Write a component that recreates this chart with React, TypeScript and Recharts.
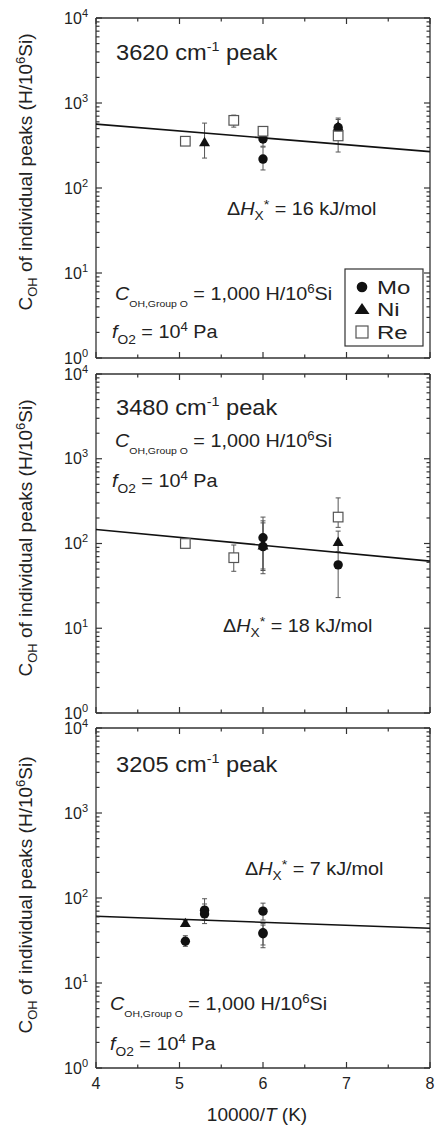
import { ErrorBar, Scatter, ScatterChart, XAxis, YAxis } from "recharts"

// x = 10000/T (K), y = C_OH (H/10^6 Si); lo/hi = ends of the error bar
type Pt = { x: number; y: number; lo: number; hi: number }

const X_TICKS = [4, 4.5, 5, 5.5, 6, 6.5, 7, 7.5, 8]
const X_LABELS = [4, 5, 6, 7, 8]
const Y_DECADES = [1, 10, 100, 1000, 10000]
const Y_TICKS = [
  1, 2, 3, 4, 5, 6, 7, 8, 9,
  10, 20, 30, 40, 50, 60, 70, 80, 90,
  100, 200, 300, 400, 500, 600, 700, 800, 900,
  1000, 2000, 3000, 4000, 5000, 6000, 7000, 8000, 9000,
  10000,
]

// 3620 cm-1 peak
const mo3620: Pt[] = [
  { x: 6.0, y: 219, lo: 163, hi: 303 },
  { x: 6.0, y: 377, lo: 310, hi: 460 },
  { x: 6.9, y: 515, lo: 430, hi: 665 },
]
const ni3620: Pt[] = [
  { x: 5.3, y: 347, lo: 225, hi: 580 },
  { x: 6.9, y: 530, lo: 450, hi: 640 },
]
const re3620: Pt[] = [
  { x: 5.07, y: 355, lo: 335, hi: 375 },
  { x: 5.65, y: 625, lo: 520, hi: 720 },
  { x: 6.0, y: 465, lo: 420, hi: 520 },
  { x: 6.9, y: 410, lo: 265, hi: 560 },
]
const fit3620 = [{ x: 4, y: 565 }, { x: 8, y: 268 }]

// 3480 cm-1 peak
const mo3480: Pt[] = [
  { x: 6.0, y: 117, lo: 50, hi: 205 },
  { x: 6.0, y: 92, lo: 44, hi: 185 },
  { x: 6.9, y: 56, lo: 23, hi: 105 },
]
const ni3480: Pt[] = [
  { x: 6.0, y: 95, lo: 48, hi: 175 },
  { x: 6.9, y: 105, lo: 80, hi: 140 },
]
const re3480: Pt[] = [
  { x: 5.07, y: 100, lo: 94, hi: 106 },
  { x: 5.65, y: 68, lo: 47, hi: 96 },
  { x: 6.9, y: 205, lo: 155, hi: 345 },
]
const fit3480 = [{ x: 4, y: 146 }, { x: 8, y: 62 }]

// 3205 cm-1 peak
const mo3205: Pt[] = [
  { x: 5.07, y: 31, lo: 27, hi: 36 },
  { x: 5.3, y: 72, lo: 55, hi: 98 },
  { x: 5.3, y: 65, lo: 50, hi: 85 },
  { x: 6.0, y: 70, lo: 55, hi: 87 },
  { x: 6.0, y: 39, lo: 26, hi: 50 },
  { x: 6.0, y: 38, lo: 28, hi: 48 },
]
const ni3205: Pt[] = [{ x: 5.07, y: 51, lo: 48, hi: 54 }]
const re3205: Pt[] = []
const fit3205 = [{ x: 4, y: 61 }, { x: 8, y: 44 }]

const FONT = "'Liberation Sans', Arial, Helvetica, sans-serif"
const INK = "#222"
const FRAME = "#333"
const SX = 1.1 // annotation text in the figure is a bit wider than Arial

const withErr = (d: Pt[]) => d.map((p) => ({ ...p, err: [p.y - p.lo, p.hi - p.y] }))

const Dot = (p: any) => <circle cx={p.cx} cy={p.cy} r={4.7} fill="#111" />
const Tri = (p: any) => (
  <polygon
    points={`${p.cx - 5.5},${p.cy + 4.2} ${p.cx + 5.5},${p.cy + 4.2} ${p.cx},${p.cy - 5.2}`}
    fill="#111"
  />
)
const Sq = (p: any) => (
  <rect x={p.cx - 4.8} y={p.cy - 4.8} width={9.6} height={9.6} fill="#fff" stroke="#555" strokeWidth={1.2} />
)
const NoShape = () => <g />

function xTick(side: "bottom" | "top", labels: boolean) {
  return (p: any) => {
    const v = p.payload.value
    const major = X_LABELS.includes(v)
    const len = major ? 6 : 3.5
    const y2 = side === "bottom" ? p.y - len : p.y + len
    return (
      <g>
        <line x1={p.x} x2={p.x} y1={p.y} y2={y2} stroke={FRAME} strokeWidth={1.2} />
        {labels && major && side === "bottom" && (
          <text x={p.x} y={p.y + 21} textAnchor="middle" fontSize={16} fill={INK} fontFamily={FONT}>
            {v}
          </text>
        )}
      </g>
    )
  }
}

function yTick(side: "left" | "right") {
  return (p: any) => {
    const v = p.payload.value
    const major = Y_DECADES.includes(v)
    const len = major ? 6 : 3.5
    const x2 = side === "left" ? p.x + len : p.x - len
    return (
      <g>
        <line x1={p.x} x2={x2} y1={p.y} y2={p.y} stroke={FRAME} strokeWidth={1.2} />
        {major && side === "left" && (
          <text x={p.x - 8} y={p.y + 5.5} textAnchor="end" fontSize={16} fill={INK} fontFamily={FONT}>
            10
            <tspan fontSize={11} dy={-7}>
              {Math.round(Math.log10(v))}
            </tspan>
          </text>
        )}
      </g>
    )
  }
}

interface PanelProps {
  top: number
  plotH: number
  bottom: number
  mo: Pt[]
  ni: Pt[]
  re: Pt[]
  fit: { x: number; y: number }[]
  labels: boolean
}

// axes need a non-zero size to be drawn, so each takes 1px out of the margin
function Panel({ top, plotH, bottom, mo, ni, re, fit, labels }: PanelProps) {
  const h = 18 + plotH + bottom
  const axisLine = { stroke: FRAME, strokeWidth: 1.3 }
  const series: [Pt[], (p: any) => any][] = [
    [mo, Dot],
    [ni, Tri],
    [re, Sq],
  ]
  return (
    <div style={{ position: "absolute", left: 0, top: top - 18, width: 436, height: h }}>
      <ScatterChart width={436} height={h} margin={{ top: 17, right: 5, bottom: bottom - 1, left: 95 }}>
        <XAxis
          xAxisId="b"
          type="number"
          dataKey="x"
          domain={[4, 8]}
          ticks={X_TICKS}
          interval={0}
          height={1}
          tickSize={0}
          tickMargin={0}
          tick={xTick("bottom", labels)}
          axisLine={axisLine}
          allowDataOverflow
        />
        <XAxis
          xAxisId="t"
          orientation="top"
          type="number"
          dataKey="x"
          domain={[4, 8]}
          ticks={X_TICKS}
          interval={0}
          height={1}
          tickSize={0}
          tickMargin={0}
          tick={xTick("top", false)}
          axisLine={axisLine}
          allowDataOverflow
        />
        <YAxis
          yAxisId="l"
          type="number"
          dataKey="y"
          scale="log"
          domain={[1, 10000]}
          ticks={Y_TICKS}
          interval={0}
          width={1}
          tickSize={0}
          tickMargin={0}
          tick={yTick("left")}
          axisLine={axisLine}
          allowDataOverflow
        />
        <YAxis
          yAxisId="r"
          orientation="right"
          type="number"
          dataKey="y"
          scale="log"
          domain={[1, 10000]}
          ticks={Y_TICKS}
          interval={0}
          width={1}
          tickSize={0}
          tickMargin={0}
          tick={yTick("right")}
          axisLine={axisLine}
          allowDataOverflow
        />
        <Scatter
          data={fit}
          xAxisId="t"
          yAxisId="r"
          line={{ stroke: "#111", strokeWidth: 1.6 }}
          shape={NoShape}
          isAnimationActive={false}
        />
        {series.map(([d, shape], i) =>
          d.length ? (
            <Scatter
              key={i}
              data={withErr(d)}
              xAxisId="b"
              yAxisId="l"
              shape={shape}
              isAnimationActive={false}
            >
              <ErrorBar dataKey="err" direction="y" width={2.5} stroke="#555" strokeWidth={1} />
            </Scatter>
          ) : null,
        )}
      </ScatterChart>
    </div>
  )
}

function PeakTitle({ x, y, num }: { x: number; y: number; num: string }) {
  return (
    <g transform={`translate(${x},${y}) scale(${SX},1)`}>
      <text fontSize={21.5}>
        {num} cm
        <tspan fontSize={13} dy={-9}>
          -1
        </tspan>
        <tspan dy={9}> peak</tspan>
      </text>
    </g>
  )
}

function DeltaH({ x, y, val }: { x: number; y: number; val: number }) {
  return (
    <g transform={`translate(${x},${y}) scale(${SX},1)`}>
      <text fontSize={18}>
        Δ<tspan fontStyle="italic">H</tspan>
        <tspan fontSize={12.5} dy={5}>
          X
        </tspan>
        <tspan fontSize={13} dy={-11}>
          *
        </tspan>
        <tspan dy={6}> = {val} kJ/mol</tspan>
      </text>
    </g>
  )
}

function COH({ x, y }: { x: number; y: number }) {
  return (
    <g transform={`translate(${x},${y}) scale(${SX},1)`}>
      <text fontSize={18}>
        <tspan fontStyle="italic">C</tspan>
        <tspan fontSize={9.5} dy={7}>
          OH,Group O
        </tspan>
        <tspan dy={-7}> = 1,000 H/10</tspan>
        <tspan fontSize={12} dy={-7}>
          6
        </tspan>
        <tspan dy={7}>Si</tspan>
      </text>
    </g>
  )
}

function FO2({ x, y }: { x: number; y: number }) {
  return (
    <g transform={`translate(${x},${y}) scale(${SX},1)`}>
      <text fontSize={18}>
        <tspan fontStyle="italic">f</tspan>
        <tspan fontSize={12.5} dy={6}>
          O2
        </tspan>
        <tspan dy={-6}> = 10</tspan>
        <tspan fontSize={12} dy={-7}>
          4
        </tspan>
        <tspan dy={7}> Pa</tspan>
      </text>
    </g>
  )
}

function YTitle({ cy }: { cy: number }) {
  return (
    <g transform={`translate(32,${cy}) rotate(-90)`}>
      <text textAnchor="middle" fontSize={19}>
        C
        <tspan fontSize={13} dy={5}>
          OH
        </tspan>
        <tspan dy={-5}> of individual peaks (H/10</tspan>
        <tspan fontSize={13} dy={-7}>
          6
        </tspan>
        <tspan dy={7}>Si)</tspan>
      </text>
    </g>
  )
}

function LegendBox() {
  const entries = ["Mo", "Ni", "Re"]
  const ys = [287, 309, 332]
  return (
    <g>
      <rect x={345} y={269} width={78} height={77} fill="#fff" stroke={FRAME} strokeWidth={1.2} />
      <circle cx={362} cy={ys[0]} r={5.3} fill="#111" />
      <polygon points={`354.5,${ys[1] + 5} 369.5,${ys[1] + 5} 362,${ys[1] - 6}`} fill="#111" />
      <rect x={356} y={ys[2] - 6} width={12} height={12} fill="#fff" stroke="#555" strokeWidth={1.2} />
      {entries.map((t, i) => (
        <g key={t} transform={`translate(377,${ys[i] + 6.5}) scale(1.3,1)`}>
          <text fontSize={18.5}>{t}</text>
        </g>
      ))}
    </g>
  )
}

export default function App() {
  return (
    <div style={{ position: "absolute", left: 0, top: 0, width: 436, height: 1131, background: "#fff" }}>
      <Panel top={18} plotH={340} bottom={10} mo={mo3620} ni={ni3620} re={re3620} fit={fit3620} labels={false} />
      <Panel top={374} plotH={339} bottom={10} mo={mo3480} ni={ni3480} re={re3480} fit={fit3480} labels={false} />
      <Panel top={728} plotH={340} bottom={63} mo={mo3205} ni={ni3205} re={re3205} fit={fit3205} labels />
      <svg
        width={436}
        height={1131}
        style={{ position: "absolute", left: 0, top: 0, pointerEvents: "none" }}
        fontFamily={FONT}
        fill={INK}
      >
        <YTitle cy={172} />
        <YTitle cy={538} />
        <YTitle cy={895} />

        <PeakTitle x={116} y={60} num="3620" />
        <DeltaH x={227} y={215} val={16} />
        <COH x={115} y={300} />
        <FO2 x={112} y={338} />
        <LegendBox />

        <PeakTitle x={116} y={415} num="3480" />
        <COH x={115} y={447} />
        <FO2 x={112} y={487} />
        <DeltaH x={223} y={632} val={18} />

        <PeakTitle x={116} y={772} num="3205" />
        <DeltaH x={245} y={875} val={7} />
        <COH x={110} y={1010} />
        <FO2 x={110} y={1050} />

        <text x={257} y={1121} textAnchor="middle" fontSize={19}>
          10000/<tspan fontStyle="italic">T</tspan> (K)
        </text>
      </svg>
    </div>
  )
}
